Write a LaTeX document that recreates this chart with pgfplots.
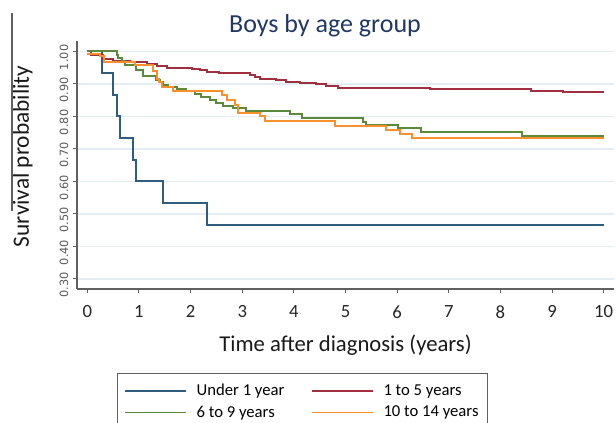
\documentclass[border=0pt]{standalone}
\usepackage{pgfplots}
\pgfplotsset{compat=1.18}
\usepackage{fontspec}
\setmainfont{Carlito}
\newfontfamily\tickfont{DejaVu Sans}
\definecolor{cblue}{HTML}{2F5D80}
\definecolor{cred}{HTML}{A0303F}
\definecolor{cgreen}{HTML}{5A8A3A}
\definecolor{corange}{HTML}{F7902D}
\definecolor{cgrid}{HTML}{E2EEF4}
\definecolor{caxis}{HTML}{606060}
\definecolor{ctitle}{HTML}{1F3864}
\begin{document}
\begin{tikzpicture}
\useasboundingbox (-57.75pt,-100.5pt) rectangle (404.25pt,216.75pt);
\begin{axis}[
  at={(0pt,0pt)}, anchor=south west,
  scale only axis, width=402.75pt, height=186pt,
  xmin=-0.2, xmax=10.2, ymin=0.269, ymax=1.032,
  axis lines=left, axis line style={-, caxis, line width=0.9pt},
  xtick={0,1,...,10}, ytick={0.3,0.4,...,1.0},
  tick align=outside, major tick length=3pt,
  xtick style={caxis, line width=0.8pt},
  ytick style={caxis, line width=0.8pt},
  ymajorgrids, grid style={cgrid, line width=1.1pt},
  /pgf/number format/assume math mode=true,
  xticklabel style={font=\fontsize{14}{16}\selectfont, text=black!85, yshift=-6pt},
  yticklabel style={font=\tickfont\fontsize{8.5}{10}\selectfont, text=black!65, rotate=90, anchor=south, xshift=-4.5pt},
  yticklabel={\pgfmathprintnumber[fixed,fixed zerofill,precision=2]{\tick}},
  legend columns=2,
  legend cell align=left,
  legend style={at={(axis description cs:0.0745,-0.3387)}, anchor=north west,
    draw=caxis, line width=0.8pt, font=\fontsize{12.5}{14}\selectfont,
    inner xsep=5pt, inner ysep=6pt, row sep=2pt,
    /tikz/every even column/.append style={column sep=18pt}},
  legend image code/.code={\draw[#1, line width=1.2pt] (0pt,0pt) -- (46pt,0pt); \path (51pt,0pt);},
  every axis plot/.append style={line width=1.5pt, const plot},
]
% Under 1 year
\addplot[cblue] coordinates {
(0,1.000) (0.29,0.933) (0.50,0.867) (0.57,0.800) (0.63,0.733) (0.88,0.667)
(0.94,0.600) (1.46,0.533) (2.32,0.467) (10,0.467)};
\addlegendentry{Under 1 year}
% 1 to 5 years
\addplot[cred] coordinates {
(0,1.000) (0.08,0.990) (0.30,0.976) (0.50,0.970) (0.83,0.966) (1.15,0.960)
(1.34,0.954) (1.54,0.950) (2.02,0.946) (2.18,0.942) (2.31,0.937) (2.55,0.933)
(3.15,0.927) (3.25,0.921) (3.34,0.915) (3.65,0.911) (3.85,0.907) (4.12,0.904)
(4.43,0.899) (4.62,0.893) (4.86,0.888) (6.63,0.884) (8.59,0.879) (9.21,0.874)
(10,0.874)};
\addlegendentry{1 to 5 years}
% 6 to 9 years
\addplot[cgreen] coordinates {
(0,1.000) (0.57,0.989) (0.60,0.979) (0.67,0.969) (0.73,0.957) (0.94,0.944)
(1.08,0.923) (1.33,0.913) (1.41,0.905) (1.47,0.898) (1.57,0.890) (1.73,0.883)
(1.92,0.877) (2.08,0.868) (2.21,0.859) (2.37,0.850) (2.50,0.842) (2.63,0.832)
(2.83,0.825) (3.08,0.817) (3.92,0.806) (4.15,0.794) (5.34,0.784) (5.39,0.774)
(6.02,0.764) (6.47,0.753) (8.42,0.740) (10,0.740)};
\addlegendentry{6 to 9 years}
% 10 to 14 years
\addplot[corange] coordinates {
(0,0.993) (0.25,0.986) (0.32,0.966) (0.92,0.957) (1.28,0.940) (1.34,0.916)
(1.39,0.907) (1.44,0.890) (1.66,0.877) (2.61,0.866) (2.70,0.851) (2.86,0.835)
(2.92,0.812) (3.34,0.800) (3.45,0.787) (4.79,0.772) (5.79,0.758) (6.05,0.746)
(6.28,0.733) (10,0.733)};
\addlegendentry{10 to 14 years}
\end{axis}
\node[anchor=base, text=ctitle, font=\fontsize{19.5}{22}\selectfont] at (186pt,192pt) {Boys by age group};
\node[anchor=base, font=\fontsize{17}{20}\selectfont, text=black!90] at (201.4pt,-47pt) {Time after diagnosis (years)};
\node[anchor=base, rotate=90, font=\fontsize{17.5}{20}\selectfont, text=black!90] at (-36pt,99.4pt) {Survival probability};
\draw[caxis, line width=0.8pt] (-48.75pt,58.5pt) -- (-48.75pt,207pt);
\end{tikzpicture}
\end{document}
